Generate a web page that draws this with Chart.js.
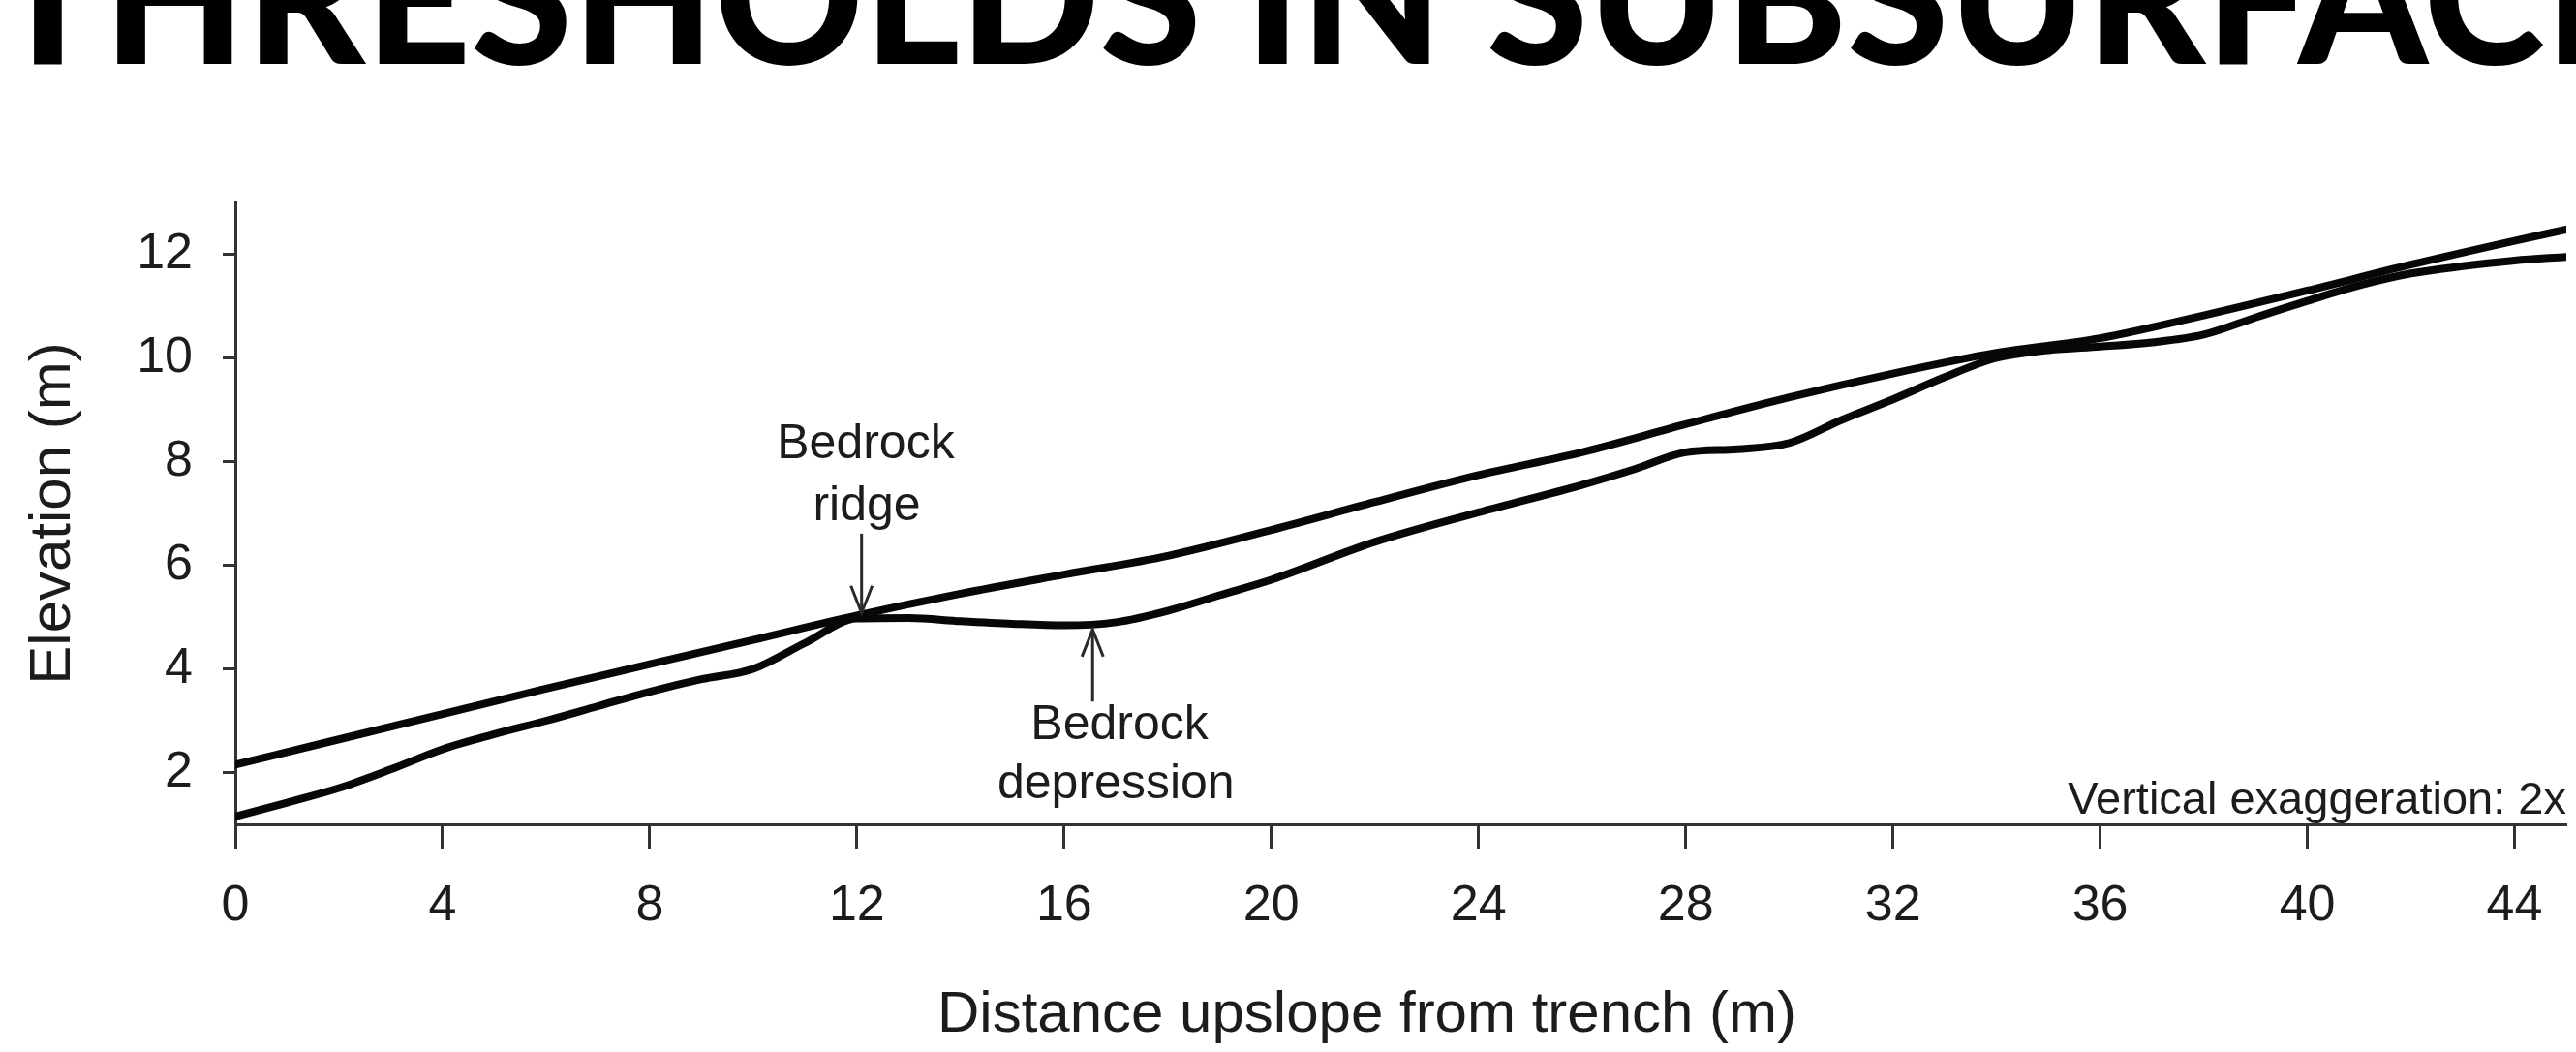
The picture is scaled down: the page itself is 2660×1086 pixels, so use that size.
<!DOCTYPE html>
<html>
<head>
<meta charset="utf-8">
<script src="https://cdn.jsdelivr.net/npm/chart.js@4.4.1/dist/chart.umd.min.js"></script>
<style>
  html, body { margin: 0; padding: 0; background: #ffffff; }
  body { width: 2660px; height: 1086px; overflow: hidden; position: relative; }
  #heading {
    position: absolute; left: -8px; top: -103px; margin: 0;
    font-family: Lato, "Open Sans", sans-serif; font-weight: 900;
    font-size: 190px; line-height: 190px; white-space: nowrap; color: #000;
  }
  #plot { position: absolute; left: 0; top: 0; display: block; }
</style>
</head>
<body>
<h1 id="heading">THRESHOLDS IN SUBSURFACE</h1>
<canvas id="plot" width="2660" height="1086"></canvas>
<script>
// Hillslope profile: ground surface and bedrock surface (m)
const surfaceDistance = [0, 2, 4, 6, 8, 10, 12, 14, 16, 18, 20, 22, 24, 26, 28, 30, 32, 34, 36, 38, 40, 42, 44, 45];
const surfaceElevation = [2.15, 2.64, 3.13, 3.62, 4.09, 4.56, 5.03, 5.45, 5.82, 6.18, 6.68, 7.22, 7.74, 8.18, 8.72, 9.24, 9.7, 10.1, 10.38, 10.82, 11.3, 11.8, 12.26, 12.48];

const bedrockDistance = [0, 1, 2, 3, 4, 5, 6, 7, 8, 9, 10, 11, 12, 13, 14, 15, 16, 17, 18, 19, 20, 22, 24, 26, 27, 28, 29, 30, 31, 32, 33, 34, 35, 36, 37, 38, 39, 40, 41, 42, 43, 44, 45];
const bedrockElevation = [1.15, 1.42, 1.7, 2.06, 2.45, 2.74, 3.0, 3.28, 3.56, 3.8, 4.0, 4.5, 4.97, 4.98, 4.92, 4.87, 4.84, 4.9, 5.12, 5.42, 5.72, 6.45, 7.02, 7.55, 7.85, 8.18, 8.24, 8.36, 8.8, 9.2, 9.63, 10.0, 10.15, 10.22, 10.3, 10.45, 10.78, 11.1, 11.4, 11.63, 11.77, 11.88, 11.95];

// Axis ticks
const distanceTicks = [0, 4, 8, 12, 16, 20, 24, 28, 32, 36, 40, 44];
const elevationTicks = [2, 4, 6, 8, 10, 12];

// Arrow callouts (distance, tail elevation, tip elevation)
const ridgeArrow = { x: 12.09, from: 6.61, to: 5.08 };
const depressionArrow = { x: 16.55, from: 3.37, to: 4.76 };

// Callout text anchored at (distance, baseline elevation)
const calloutLines = [
  { text: 'Bedrock', x: 12.17, y: 8.06 },
  { text: 'ridge', x: 12.19, y: 6.86 },
  { text: 'Bedrock', x: 17.07, y: 2.64 },
  { text: 'depression', x: 17.0, y: 1.5 }
];

const toPoints = (xs, ys) => xs.map((x, i) => ({ x: x, y: ys[i] }));

const TEXT = '#1c1c1c';
const AXIS = '#333333';
const SANS = '"Liberation Sans", Arial, Helvetica, sans-serif';

const calloutPlugin = {
  id: 'profileCallouts',
  afterDatasetsDraw(chart) {
    const { ctx, chartArea } = chart;
    const xs = chart.scales.x, ys = chart.scales.y;
    ctx.save();

    // arrows
    ctx.strokeStyle = '#2a2a2a';
    ctx.lineWidth = 3;
    ctx.lineCap = 'butt';
    [ridgeArrow, depressionArrow].forEach(a => {
      const px = xs.getPixelForValue(a.x);
      const p0 = ys.getPixelForValue(a.from);
      const p1 = ys.getPixelForValue(a.to);
      const dir = Math.sign(p1 - p0);
      ctx.beginPath();
      ctx.moveTo(px, p0);
      ctx.lineTo(px, p1);
      ctx.stroke();
      ctx.beginPath();
      ctx.moveTo(px - 11, p1 - dir * 28);
      ctx.lineTo(px, p1);
      ctx.lineTo(px + 11, p1 - dir * 28);
      ctx.stroke();
    });

    // callout text
    ctx.fillStyle = TEXT;
    ctx.font = '50px ' + SANS;
    ctx.textAlign = 'center';
    ctx.textBaseline = 'alphabetic';
    calloutLines.forEach(t => {
      ctx.fillText(t.text, xs.getPixelForValue(t.x), ys.getPixelForValue(t.y));
    });

    // exaggeration note, bottom right of the plot
    ctx.font = '47px ' + SANS;
    ctx.textAlign = 'right';
    ctx.fillText('Vertical exaggeration: 2x', chartArea.right, chartArea.bottom - 11);

    // x-axis title
    ctx.font = '60px ' + SANS;
    ctx.textAlign = 'center';
    ctx.fillText('Distance upslope from trench (m)', (chartArea.left + chartArea.right) / 2 - 35, chartArea.bottom + 214);

    ctx.restore();
  }
};

const lineStyle = {
  borderColor: '#070707',
  borderWidth: 8,
  pointRadius: 0,
  pointHoverRadius: 0,
  fill: false,
  cubicInterpolationMode: 'monotone',
  borderCapStyle: 'round',
  borderJoinStyle: 'round'
};

new Chart(document.getElementById('plot'), {
  type: 'line',
  data: {
    datasets: [
      Object.assign({ label: 'Ground surface', data: toPoints(surfaceDistance, surfaceElevation) }, lineStyle),
      Object.assign({ label: 'Bedrock surface', data: toPoints(bedrockDistance, bedrockElevation) }, lineStyle)
    ]
  },
  options: {
    responsive: false,
    animation: false,
    devicePixelRatio: 1,
    layout: { padding: { top: 209, right: 10, bottom: 0, left: 0 } },
    plugins: {
      legend: { display: false },
      tooltip: { enabled: false },
      title: { display: false }
    },
    scales: {
      x: {
        type: 'linear',
        min: 0,
        max: 45,
        afterBuildTicks: s => { s.ticks = distanceTicks.map(v => ({ value: v })); },
        afterFit: s => { s.height = 235; },
        grid: { drawOnChartArea: false, drawTicks: true, tickLength: 25, tickWidth: 3, tickColor: AXIS },
        border: { display: true, color: AXIS, width: 3 },
        ticks: { autoSkip: false, maxRotation: 0, padding: 28, color: TEXT, font: { family: SANS, size: 52 } },
        title: { display: false }
      },
      y: {
        type: 'linear',
        min: 1,
        max: 13,
        afterBuildTicks: s => { s.ticks = elevationTicks.map(v => ({ value: v })); },
        afterFit: s => { s.width = 243; },
        grid: { drawOnChartArea: false, drawTicks: true, tickLength: 13, tickWidth: 3, tickColor: AXIS },
        border: { display: true, color: AXIS, width: 3 },
        ticks: { padding: 31, color: TEXT, font: { family: SANS, size: 52 } },
        title: {
          display: true,
          text: 'Elevation (m)',
          color: TEXT,
          font: { family: SANS, size: 60 },
          padding: { top: 19, bottom: 0 }
        }
      }
    }
  },
  plugins: [calloutPlugin]
});
</script>
</body>
</html>
